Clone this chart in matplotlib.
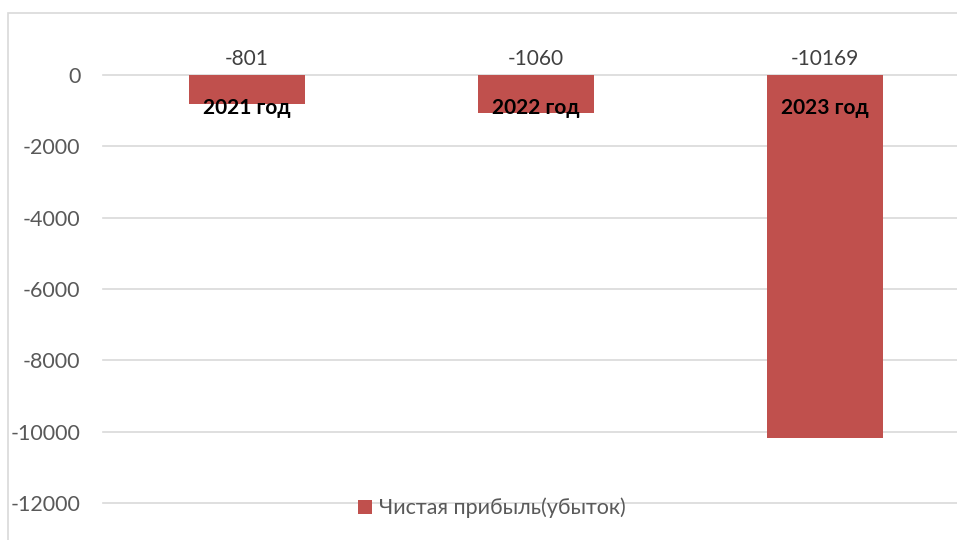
import matplotlib
matplotlib.use("Agg")
import matplotlib.pyplot as plt
from matplotlib.patches import Rectangle

categories = ["2021 год", "2022 год", "2023 год"]
values = [-801, -1060, -10169]
series_name = "Чистая прибыль(убыток)"
yticks = [0, -2000, -4000, -6000, -8000, -10000, -12000]

W, H = 957, 540
fig = plt.figure(figsize=(W / 100, H / 100), dpi=100)
plt.rcParams['font.family'] = ['Lato', 'DejaVu Sans']

# chart area border
fig.patches.append(Rectangle((8 / W, -0.1), 1.2, 1.1 - 13 / H, transform=fig.transFigure,
                             fill=False, edgecolor="#d9d9d9", linewidth=1.2))

left, right = 102.5 / W, 969.5 / W
bottom, top = (H - 503) / H, (H - 75) / H
ax = fig.add_axes([left, bottom, right - left, top - bottom])
ax.set_xlim(-0.5, len(categories) - 0.5)
ax.set_ylim(-12000, 0)

x = list(range(len(categories)))
ax.bar(x, values, width=0.4, color="#C0504D", zorder=3, label=series_name)

ax.set_yticks(yticks)
ax.set_yticklabels([str(v) for v in yticks], color="#595959", fontsize=15.5)
ax.tick_params(axis="y", length=0, pad=16)
ax.set_xticks([])
for s in ax.spines.values():
    s.set_visible(False)
for v in yticks:
    ax.axhline(v, color="#d9d9d9", linewidth=1.2, zorder=1, clip_on=False)

for xi, v, c in zip(x, values, categories):
    ax.annotate(str(v), (xi, 0), xytext=(0, 4), textcoords="offset points",
                ha="center", va="bottom", color="#404040", fontsize=15)
    ax.annotate(c, (xi, 0), xytext=(0, -24), textcoords="offset points",
                ha="center", va="center", color="black", fontsize=15, fontweight="bold")

leg = fig.legend(loc="center", bbox_to_anchor=(492 / W, (H - 508) / H), frameon=False,
                 fontsize=15.5, handlelength=0.65, handleheight=0.65, handletextpad=0.3,
                 labelcolor="#595959")

fig.savefig("out.png", dpi=100)
